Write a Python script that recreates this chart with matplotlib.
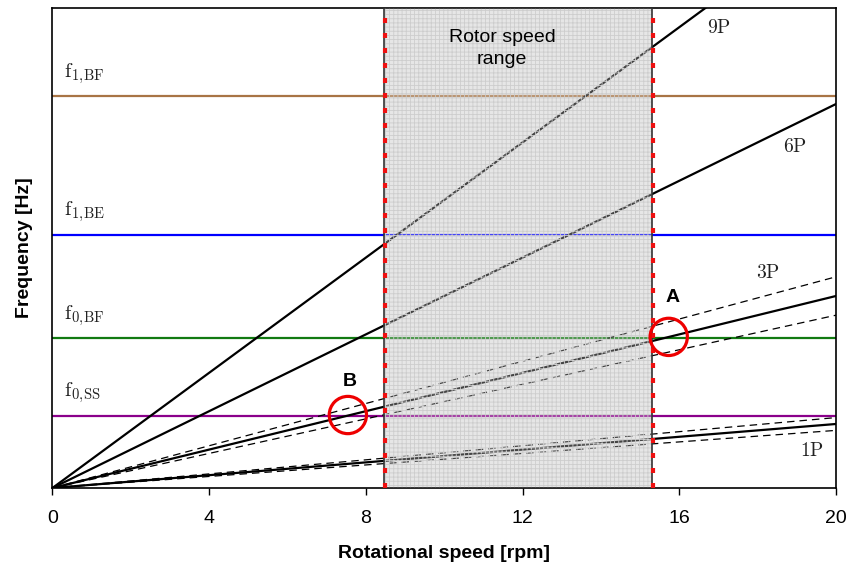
import numpy as np
import matplotlib
matplotlib.use("Agg")
import matplotlib.pyplot as plt
from matplotlib.patches import Rectangle

plt.rcParams['font.family'] = ['Liberation Sans', 'DejaVu Sans']
plt.rcParams['mathtext.fontset'] = 'cm'
plt.rcParams['hatch.linewidth'] = 0.6

# ---- data ----
rpm = np.array([0.0, 20.0])
harmonics = [1, 3, 6, 9]
harmonic_labels = ['1P', '3P', '6P', '9P']
band_harmonics = [1, 3]
band_frac = 0.10
rotor_range = [8.46, 15.3]

nat_names = [r'$\mathrm{f}_{1,\!\mathrm{BF}}$', r'$\mathrm{f}_{1,\!\mathrm{BE}}$',
             r'$\mathrm{f}_{0,\!\mathrm{BF}}$', r'$\mathrm{f}_{0,\!\mathrm{SS}}$']
nat_freqs = [2.04, 1.32, 0.78, 0.376]
nat_colors = ['#A87445', '#0000FF', '#117A11', '#8B008B']

label_pos_x = [19.07, 17.97, 18.64, 16.7]
label_pos_y = [0.193, 1.12, 1.776, 2.396]

points = ['A', 'B']
point_x = [15.73, 7.54]
point_y = [0.787, 0.38]
point_lbl_x = [15.83, 7.59]
point_lbl_y = [0.99, 0.553]

xticks = [0, 4, 8, 12, 16, 20]
ymax = 2.5

fig = plt.figure(figsize=(8.49, 5.71), dpi=100)
ax = fig.add_axes([0.0618, 0.1454, 0.9229, 0.8406])
ax.set_xlim(0, 20)
ax.set_ylim(0, ymax)

# horizontal natural frequencies
for name, f, c in zip(nat_names, nat_freqs, nat_colors):
    ax.axhline(f, color=c, lw=1.6, zorder=2)
    ax.text(0.3, f + 0.055, name, fontsize=15, color='#222222', va='bottom', ha='left')

# harmonic lines
for h in harmonics:
    ax.plot(rpm, h * rpm / 60.0, color='black', lw=1.6, zorder=3)
for h in band_harmonics:
    for s in (1 + band_frac, 1 - band_frac):
        ax.plot(rpm, s * h * rpm / 60.0, color='black', lw=0.9,
                ls=(0, (6, 4)), zorder=3)

for lbl, lx, ly in zip(harmonic_labels, label_pos_x, label_pos_y):
    ax.text(lx, ly, r'$\mathrm{' + lbl + '}$', fontsize=14, ha='left', va='center',
            color='#222222')

# rotor speed range box
w = rotor_range[1] - rotor_range[0]
ax.add_patch(Rectangle((rotor_range[0], 0), w, ymax, facecolor='#e6e6e6',
                       edgecolor='none', zorder=1))
ax.add_patch(Rectangle((rotor_range[0], 0), w, ymax, facecolor=(0.9, 0.9, 0.9, 0.3),
                       edgecolor='#cdcdcd', hatch='++++', lw=0, zorder=4))
ax.add_patch(Rectangle((rotor_range[0], 0), w, ymax, facecolor='none',
                       edgecolor='#333333', lw=1.2, zorder=5))
for xr in rotor_range:
    ax.axvline(xr + 0.03, color='#EE1111', lw=3.0, ls=(0, (1.2, 2.4)), zorder=6)
ax.text(sum(rotor_range) / 2 - 0.4, 2.29, 'Rotor speed\nrange', ha='center', va='center',
        fontsize=14, linespacing=1.35, zorder=7)

# points
ax.scatter(point_x, point_y, s=720, facecolors='none', edgecolors='#EE0000',
           linewidths=2.3, zorder=8)
for p, lx, ly in zip(points, point_lbl_x, point_lbl_y):
    ax.text(lx, ly, p, fontsize=14, fontweight='bold', ha='center', va='center', zorder=8)

ax.set_xticks(xticks)
ax.set_xticklabels([str(t) for t in xticks], fontsize=14)
ax.set_yticks([])
ax.tick_params(axis='x', direction='out', length=5, width=1, pad=11)
for sp in ax.spines.values():
    sp.set_linewidth(1.2)

ax.set_xlabel('Rotational speed [rpm]', fontsize=14, fontweight='bold', labelpad=13)
ax.set_ylabel('Frequency [Hz]', fontsize=14, fontweight='bold', labelpad=14)

fig.savefig('out.png', dpi=100)
